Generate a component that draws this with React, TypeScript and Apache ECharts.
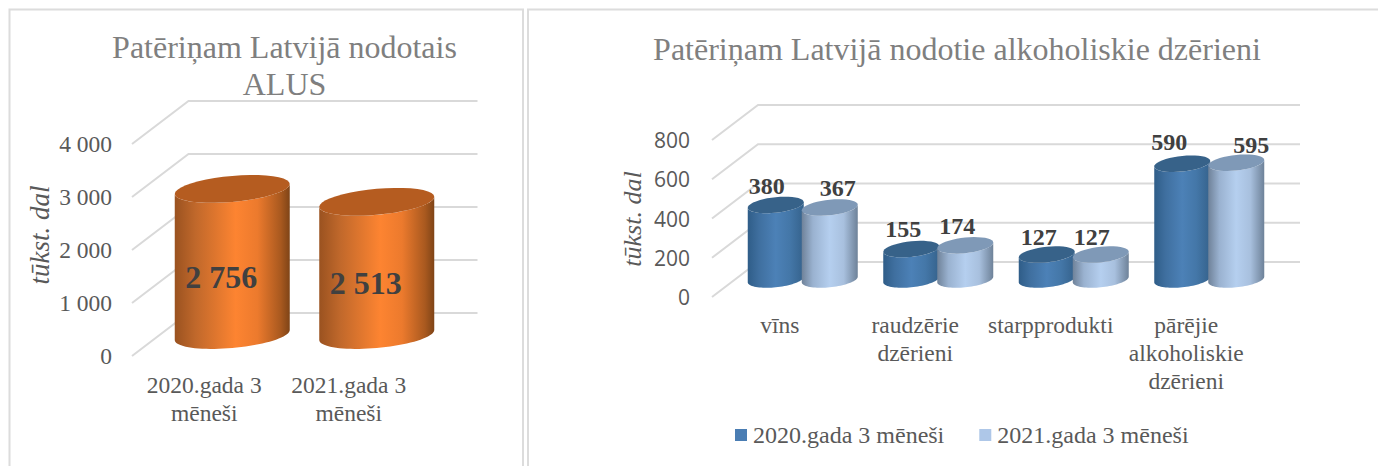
import React, { useEffect, useRef } from "react";
import * as echarts from "echarts";

const beerCategories = ["2020.gada 3\nmēneši", "2021.gada 3\nmēneši"];
const beerValues = [2756, 2513];
const beerTicks = [0, 1000, 2000, 3000, 4000];

const drinkCategories = ["vīns", "raudzērie\ndzērieni", "starpprodukti", "pārējie\nalkoholiskie\ndzērieni"];
const series2020Name = "2020.gada 3 mēneši";
const series2021Name = "2021.gada 3 mēneši";
const values2020 = [380, 155, 127, 590];
const values2021 = [367, 174, 127, 595];
const drinkTicks = [0, 200, 400, 600, 800];

const SERIF = "'Liberation Serif', serif";
const GRID_COLOR = "#d9d9d9";

const ORANGE = {
  top: "#b55c20",
  stops: [[0, "#9a5220"], [0.18, "#c0682b"], [0.53, "#fd8431"], [0.72, "#ec7a2d"], [0.92, "#a9591f"], [1, "#7f4417"]],
};
const BLUE = {
  top: "#376289",
  stops: [[0, "#2f5d88"], [0.2, "#3f6f9f"], [0.5, "#4c81b7"], [0.75, "#4477a8"], [1, "#35628c"]],
};
const LIGHT = {
  top: "#7f99b7",
  stops: [[0, "#6f8299"], [0.2, "#9ab2d0"], [0.5, "#b5cfef"], [0.75, "#a8c0de"], [1, "#6e8299"]],
};

function wallRenderer(dx: number, dy: number) {
  return (params: any, api: any) => {
    const sys = params.coordSys;
    const p = api.coord([0, api.value(1)]);
    const y = p[1];
    return {
      type: "polyline",
      shape: { points: [[sys.x, y], [sys.x + dx, y + dy], [sys.x + sys.width + dx, y + dy]] },
      style: { fill: "none", stroke: GRID_COLOR, lineWidth: 2 },
    };
  };
}

function cylinderRenderer(o: any) {
  return (params: any, api: any) => {
    const i = api.value(0);
    const v = api.value(1);
    const base = api.coord([i, 0]);
    const tip = api.coord([i, v]);
    const cx = base[0] + o.dx + o.offsetX;
    const by = base[1] + o.dy;
    const ty = tip[1] + o.dy;
    const arc = (cy: number, from: number, to: number) => {
      const pts: number[][] = [];
      const n = 40;
      for (let j = 0; j <= n; j++) {
        const t = from + ((to - from) * j) / n;
        const x = o.rx * Math.cos(t);
        pts.push([cx + x, cy - o.s * x + o.ry * Math.sin(t)]);
      }
      return pts;
    };
    const body = [...arc(by, Math.PI, 0), ...arc(ty, 0, Math.PI)];
    const lid = arc(ty, 0, Math.PI * 2);
    const label = o.label(i, v, api, cx, ty);
    return {
      type: "group",
      children: [
        {
          type: "polygon",
          shape: { points: body },
          style: {
            fill: new echarts.graphic.LinearGradient(0, 0, 1, 0, o.palette.stops.map((s: any) => ({ offset: s[0], color: s[1] }))),
          },
        },
        { type: "polygon", shape: { points: lid }, style: { fill: o.palette.top } },
        {
          type: "text",
          style: {
            text: o.format(v),
            x: label[0],
            y: label[1],
            align: "center",
            verticalAlign: "middle",
            fontFamily: SERIF,
            fontWeight: "bold",
            fontSize: o.fontSize,
            fill: "#404040",
          },
        },
      ],
    };
  };
}

const spaced = (v: number) => String(v).replace(/\B(?=(\d{3})+$)/g, " ");

const App = () => {
  const ref = useRef<HTMLDivElement>(null);
  useEffect(() => {
    const chart = echarts.init(ref.current!, null, { renderer: "svg" });
    const nudge2020 = [[-9, -19], [-8, -20], [-8, -18], [-13, -22]];
    const nudge2021 = [[8, -19], [-8, -19], [-9, -18], [15, -18]];
    const small = { rx: 28, ry: 7.8, s: 0.1, dx: 23, dy: -17.5, fontSize: 24, format: (v: number) => String(v) };
    chart.setOption({
      animation: false,
      backgroundColor: "#ffffff",
      title: [
        {
          text: "Patēriņam Latvijā nodotais\nALUS",
          left: 284.5,
          top: 28,
          padding: 0,
          textAlign: "center",
          textStyle: { fontFamily: SERIF, fontSize: 32, fontWeight: "normal", color: "#7f7f7f", lineHeight: 37 },
        },
        {
          text: "Patēriņam Latvijā nodotie alkoholiskie dzērieni",
          left: 957,
          top: 33,
          padding: 0,
          textAlign: "center",
          textStyle: { fontFamily: SERIF, fontSize: 32, fontWeight: "normal", color: "#7f7f7f" },
        },
      ],
      legend: {
        data: [series2020Name, series2021Name],
        left: 735,
        top: 423,
        padding: 0,
        icon: "rect",
        itemWidth: 12,
        itemHeight: 12,
        itemGap: 35,
        textStyle: { fontFamily: SERIF, fontSize: 24, color: "#595959", padding: [0, 0, 0, 1] },
      },
      grid: [
        { left: 132, top: 144, width: 289, height: 212 },
        { left: 712, top: 140, width: 542, height: 157 },
      ],
      xAxis: [beerCategories, drinkCategories].map((data, gridIndex) => ({
        type: "category",
        gridIndex,
        data,
        axisLine: { show: false },
        axisTick: { show: false },
        axisLabel: {
          interval: 0,
          margin: gridIndex === 0 ? 15 : 14,
          fontFamily: SERIF,
          fontSize: 23.5,
          lineHeight: 28,
          color: "#595959",
        },
      })),
      yAxis: [
        {
          type: "value",
          gridIndex: 0,
          min: 0,
          max: 4000,
          interval: 1000,
          splitLine: { show: false },
          axisLine: { show: false },
          axisTick: { show: false },
          axisLabel: {
            margin: 20,
            fontFamily: SERIF,
            fontSize: 23.5,
            color: "#595959",
            formatter: (v: number) => spaced(v),
          },
        },
        {
          type: "value",
          gridIndex: 1,
          min: 0,
          max: 800,
          interval: 200,
          splitLine: { show: false },
          axisLine: { show: false },
          axisTick: { show: false },
          axisLabel: { margin: 22, fontFamily: "'Open Sans', sans-serif", fontSize: 21, color: "#595959" },
        },
      ],
      graphic: [
        { type: "polyline", shape: { points: [[9.5, 466], [9.5, 9.5], [523, 9.5], [523, 466]] }, style: { fill: "none", stroke: "#dcdcdc", lineWidth: 2 } },
        { type: "polyline", shape: { points: [[528, 466], [528, 9.5], [1378, 9.5]] }, style: { fill: "none", stroke: "#dcdcdc", lineWidth: 2 } },
        {
          type: "text",
          x: 40,
          y: 235,
          rotation: Math.PI / 2,
          style: { text: "tūkst. dal", align: "center", verticalAlign: "middle", fontFamily: SERIF, fontStyle: "italic", fontSize: 27, fill: "#595959" },
        },
        {
          type: "text",
          x: 632,
          y: 219,
          rotation: Math.PI / 2,
          style: { text: "tūkst. dal", align: "center", verticalAlign: "middle", fontFamily: SERIF, fontStyle: "italic", fontSize: 26, fill: "#595959" },
        },
      ],
      series: [
        {
          type: "custom",
          name: "beerWall",
          xAxisIndex: 0,
          yAxisIndex: 0,
          clip: false,
          z: 1,
          data: beerTicks.map((t) => [0, t]),
          renderItem: wallRenderer(56.5, -43),
        },
        {
          type: "custom",
          name: "drinkWall",
          xAxisIndex: 1,
          yAxisIndex: 1,
          clip: false,
          z: 1,
          data: drinkTicks.map((t) => [0, t]),
          renderItem: wallRenderer(46, -35),
        },
        {
          type: "custom",
          name: "ALUS",
          xAxisIndex: 0,
          yAxisIndex: 0,
          clip: false,
          z: 2,
          data: beerValues.map((v, i) => [i, v]),
          renderItem: cylinderRenderer({
            palette: ORANGE,
            rx: 57.5,
            ry: 13,
            s: 0.087,
            dx: 28,
            dy: -21,
            offsetX: 0,
            fontSize: 32,
            format: spaced,
            label: (i: number, v: number, api: any) => {
              const p = api.coord([i, v / 2]);
              return [p[0] + 17, p[1] - 6];
            },
          }),
        },
        {
          type: "custom",
          name: series2020Name,
          xAxisIndex: 1,
          yAxisIndex: 1,
          clip: false,
          z: 2,
          itemStyle: { color: "#4a7db3" },
          data: values2020.map((v, i) => [i, v]),
          renderItem: cylinderRenderer({
            ...small,
            palette: BLUE,
            offsetX: -27,
            label: (i: number, _v: number, _a: any, cx: number, ty: number) => [cx + nudge2020[i][0], ty + nudge2020[i][1]],
          }),
        },
        {
          type: "custom",
          name: series2021Name,
          xAxisIndex: 1,
          yAxisIndex: 1,
          clip: false,
          z: 3,
          itemStyle: { color: "#aec7e8" },
          data: values2021.map((v, i) => [i, v]),
          renderItem: cylinderRenderer({
            ...small,
            palette: LIGHT,
            offsetX: 27,
            label: (i: number, _v: number, _a: any, cx: number, ty: number) => [cx + nudge2021[i][0], ty + nudge2021[i][1]],
          }),
        },
      ],
    });
    return () => chart.dispose();
  }, []);
  return <div ref={ref} style={{ position: "absolute", left: 0, top: 0, width: 1378, height: 466 }} />;
};

export default App;
